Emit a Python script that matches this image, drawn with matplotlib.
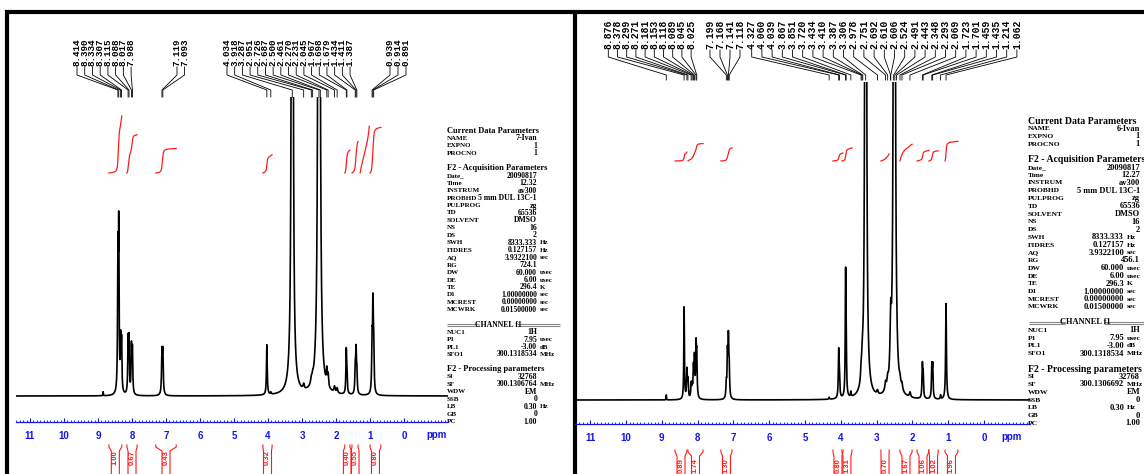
import numpy as np
import matplotlib.pyplot as plt
from matplotlib.ticker import FixedLocator, MultipleLocator

W, H = 1144, 474
BLUE = '#1414e6'
RED = '#ff1a1a'

# ---------------- left spectrum: 7-Ivan ----------------
left_peak_ppm = [8.85, 8.414, 8.390, 8.334, 8.307, 8.115, 8.088, 8.017, 7.988,
                 7.119, 7.093, 4.034, 3.918, 3.287, 3.29, 2.951, 2.726, 2.687,
                 2.500, 2.50, 2.461, 2.270, 2.231, 2.045, 1.967, 1.698, 1.679,
                 1.434, 1.411, 1.387, 0.939, 0.914, 0.891]
left_peak_height = [4, 130, 155, 48, 48, 52, 52, 46, 43,
                    40, 40, 50, 2, 4000, 14, 5, 5, 5,
                    4000, 14, 10, 15, 12, 6, 5, 42, 15,
                    24, 40, 21, 48, 82, 43]
left_peak_width = [0.006, 0.012, 0.012, 0.012, 0.012, 0.012, 0.012, 0.012, 0.012,
                   0.014, 0.014, 0.013, 0.012, 0.010, 0.09, 0.02, 0.02, 0.02,
                   0.012, 0.09, 0.02, 0.015, 0.015, 0.02, 0.02, 0.013, 0.013,
                   0.013, 0.013, 0.013, 0.013, 0.013, 0.013]
left_labels = [[8.414, 8.390, 8.334, 8.307, 8.115, 8.088, 8.017, 7.988],
               [7.119, 7.093],
               [4.034, 3.918, 3.287, 2.951, 2.726, 2.687, 2.500, 2.461, 2.270,
                2.231, 2.045, 1.967, 1.698, 1.679, 1.434, 1.411, 1.387],
               [0.939, 0.914, 0.891]]
left_int_start = [8.68, 8.15, 7.30, 4.15, 1.74, 1.53, 1.29, 1.00]
left_int_end = [8.30, 7.85, 6.70, 3.88, 1.59, 1.35, 1.02, 0.68]
left_int_value = [1.00, 0.67, 0.43, 0.32, 0.40, 0.55, 0.82, 0.80]
left_int_text = ['1.00', '0.67', '0.43', '0.32', '0.40', '0.55', '', '0.80']

# ---------------- right spectrum: 6-Ivan ----------------
right_peak_ppm = [8.876, 8.378, 8.299, 8.271, 8.181, 8.153, 8.118, 8.089, 8.045, 8.025,
                  7.199, 7.168, 7.141, 7.118, 4.327, 4.060, 4.039, 3.867, 3.851,
                  3.720, 3.434, 3.410, 3.387, 3.306, 3.31, 2.978, 2.751, 2.692, 2.610,
                  2.606, 2.506, 2.51, 2.443, 2.348, 2.293, 2.069, 1.723, 1.701,
                  1.459, 1.435, 1.214, 1.062]
right_peak_height = [5, 92, 28, 17, 14, 11, 28, 38, 48, 38,
                     14, 42, 56, 28, 2, 46, 19, 115, 48,
                     5, 10, 12, 8, 4000, 14, 4, 8, 8, 20,
                     35, 4000, 14, 8, 6, 6, 5, 32, 22,
                     31, 31, 4, 96]
right_peak_width = [0.005, 0.01, 0.012, 0.012, 0.012, 0.012, 0.012, 0.012, 0.012, 0.012,
                    0.012, 0.012, 0.012, 0.012, 0.01, 0.012, 0.012, 0.011, 0.011,
                    0.01, 0.015, 0.015, 0.015, 0.009, 0.09, 0.02, 0.02, 0.02, 0.02,
                    0.02, 0.010, 0.09, 0.02, 0.02, 0.02, 0.02, 0.012, 0.012,
                    0.012, 0.012, 0.01, 0.013]
right_labels = [[8.876, 8.378, 8.299, 8.271, 8.181, 8.153, 8.118, 8.089, 8.045, 8.025],
                [7.199, 7.168, 7.141, 7.118],
                [4.327, 4.060, 4.039, 3.867, 3.851, 3.720, 3.434, 3.410, 3.387,
                 3.306, 2.978, 2.751, 2.692, 2.610, 2.606, 2.524, 2.491, 2.443,
                 2.348, 2.293, 2.069, 1.723, 1.701, 1.459, 1.435, 1.214, 1.062]]
right_int_start = [8.63, 8.27, 7.35, 4.22, 3.97, 2.88, 2.35, 1.87, 1.54, 1.09]
right_int_end = [8.30, 7.85, 7.04, 3.94, 3.69, 2.65, 2.01, 1.54, 1.28, 0.73]
right_int_value = [0.89, 1.74, 1.30, 0.80, 1.31, 0.70, 1.67, 1.06, 1.02, 1.96]
right_int_text = ['0.89', '1.74', '1.30', '0.80', '1.31', '0.70', '1.67', '1.06', '1.02', '1.96']

# ---------------- parameter blocks ----------------
left_params = [
    ('Current Data Parameters', None, None), ('NAME', '7-Ivan', ''), ('EXPNO', '1', ''),
    ('PROCNO', '1', ''), ('', None, None),
    ('F2 - Acquisition Parameters', None, None), ('Date_', '20090817', ''),
    ('Time', '12.32', ''), ('INSTRUM', 'av300', ''), ('PROBHD', '5 mm DUL 13C-1', ''),
    ('PULPROG', 'zg', ''), ('TD', '65536', ''), ('SOLVENT', 'DMSO', ''), ('NS', '16', ''),
    ('DS', '2', ''), ('SWH', '8333.333', 'Hz'), ('FIDRES', '0.127157', 'Hz'),
    ('AQ', '3.9322100', 'sec'), ('RG', '724.1', ''), ('DW', '60.000', 'usec'),
    ('DE', '6.00', 'usec'), ('TE', '296.4', 'K'), ('D1', '1.00000000', 'sec'),
    ('MCREST', '0.00000000', 'sec'), ('MCWRK', '0.01500000', 'sec'), ('', None, None),
    ('CHANNEL f1', None, None), ('NUC1', '1H', ''), ('P1', '7.95', 'usec'),
    ('PL1', '-3.00', 'dB'), ('SFO1', '300.1318534', 'MHz'), ('', None, None),
    ('F2 - Processing parameters', None, None), ('SI', '32768', ''),
    ('SF', '300.1306764', 'MHz'), ('WDW', 'EM', ''), ('SSB', '0', ''),
    ('LB', '0.30', 'Hz'), ('GB', '0', ''), ('PC', '1.00', '')]
right_params = [
    ('Current Data Parameters', None, None), ('NAME', '6-Ivan', ''), ('EXPNO', '1', ''),
    ('PROCNO', '1', ''), ('', None, None),
    ('F2 - Acquisition Parameters', None, None), ('Date_', '20090817', ''),
    ('Time', '12.27', ''), ('INSTRUM', 'av300', ''), ('PROBHD', '5 mm DUL 13C-1', ''),
    ('PULPROG', 'zg', ''), ('TD', '65536', ''), ('SOLVENT', 'DMSO', ''), ('NS', '16', ''),
    ('DS', '2', ''), ('SWH', '8333.333', 'Hz'), ('FIDRES', '0.127157', 'Hz'),
    ('AQ', '3.9322100', 'sec'), ('RG', '456.1', ''), ('DW', '60.000', 'usec'),
    ('DE', '6.00', 'usec'), ('TE', '296.3', 'K'), ('D1', '1.00000000', 'sec'),
    ('MCREST', '0.00000000', 'sec'), ('MCWRK', '0.01500000', 'sec'), ('', None, None),
    ('CHANNEL f1', None, None), ('NUC1', '1H', ''), ('P1', '7.95', 'usec'),
    ('PL1', '-3.00', 'dB'), ('SFO1', '300.1318534', 'MHz'), ('', None, None),
    ('F2 - Processing parameters', None, None), ('SI', '32768', ''),
    ('SF', '300.1306692', 'MHz'), ('WDW', 'EM', ''), ('SSB', '0', ''),
    ('LB', '0.30', 'Hz'), ('GB', '0', ''), ('PC', '1.00', '')]

# layout of each panel in pixels
left_cfg = dict(x0=16.4, scale=34.0, ppm_left=11.4, ppm_right=-1.29, axis_y=422, base_y=396,
                top_y=97, lab_y=(67, 75, 90, 97), lab_fs=6.7,
                groups=[(77, 7.73), (177, 7.5), (227, 7.69), (390, 8.0)],
                int_base=173, int_scale=57, br_y=(445, 451), br_txt=458, ppm_x=-0.97, tick_lab_y=435,
                par_x=447, par_val=537, par_val_u=537, par_y=131, par_dy=7.45,
                fs_head=6.0, fs_name=5.0, fs_val=5.6, ch=(447, 479, 498, 517, 560))
right_cfg = dict(x0=575.2, scale=35.8, ppm_left=11.42, ppm_right=-1.29, axis_y=424, base_y=400,
                 top_y=82, lab_y=(50, 57, 75, 80), lab_fs=7.0,
                 groups=[(608.3, 9.2), (710, 10.0), (751.7, 10.2)],
                 int_base=161, int_scale=10, br_y=(450, 456), br_txt=466, ppm_x=-0.78, tick_lab_y=437,
                 par_x=1028, par_val=1140, par_val_u=1124, par_y=121, par_dy=7.75,
                 fs_head=7.0, fs_name=5.4, fs_val=6.0, ch=(1029, 1065, 1085, 1104, 1144))

fig = plt.figure(figsize=(W / 100, H / 100), dpi=100)
bg = fig.add_axes([0, 0, 1, 1])
bg.set_xlim(0, W)
bg.set_ylim(H, 0)
bg.axis('off')

# frames
bg.plot([5, W], [12, 12], color='black', lw=3.0, solid_capstyle='butt')
bg.plot([7, 7], [10, H], color='black', lw=3.0, solid_capstyle='butt')
bg.plot([574.5, 574.5], [10, H], color='black', lw=3.0, solid_capstyle='butt')


def spectrum(ppm, pos, hgt, wid):
    y = np.zeros_like(ppm)
    for p, h, w in zip(pos, hgt, wid):
        y += h / (1 + ((ppm - p) / w) ** 2)
    return y


def draw_params(cfg, params):
    for i, (name, val, unit) in enumerate(params):
        y = cfg['par_y'] + i * cfg['par_dy']
        kw = dict(family='Liberation Serif', weight='bold', va='center', color='black')
        if name == 'CHANNEL f1':
            a, b, c, d, e = cfg['ch']
            for dy in (-1.0, 1.0):
                bg.plot([a, b], [y + dy, y + dy], color='#8a8a8a', lw=0.8, solid_capstyle='butt')
                bg.plot([d, e], [y + dy, y + dy], color='#8a8a8a', lw=0.8, solid_capstyle='butt')
            bg.text(c, y, name, ha='center', fontsize=cfg['fs_name'] + 0.6, **kw)
            continue
        if val is None:
            bg.text(cfg['par_x'], y, name, ha='left', fontsize=cfg['fs_head'], **kw)
            continue
        bg.text(cfg['par_x'], y, name, ha='left', fontsize=cfg['fs_name'], **kw)
        xv = cfg['par_val_u'] if unit else cfg['par_val']
        bg.text(xv, y, val, ha='right', fontsize=cfg['fs_val'], **kw)
        if unit:
            bg.text(xv + 3, y, unit, ha='left', fontsize=cfg['fs_name'], **kw)


def draw_panel(cfg, pk_ppm, pk_h, pk_w, labels, i_start, i_end, i_val, i_txt):
    x0, sc = cfg['x0'], cfg['scale']
    x1 = x0 + (cfg['ppm_left'] - cfg['ppm_right']) * sc
    base = cfg['base_y']
    ax = fig.add_axes([x0 / W, 1 - cfg['axis_y'] / H, (x1 - x0) / W, (cfg['axis_y'] - cfg['top_y']) / H])
    ax.set_xlim(cfg['ppm_left'], cfg['ppm_right'])
    ax.set_ylim(base - cfg['axis_y'], base - cfg['top_y'])
    ax.patch.set_alpha(0)
    for s in ['top', 'left', 'right']:
        ax.spines[s].set_visible(False)
    ax.spines['bottom'].set_color(BLUE)
    ax.spines['bottom'].set_linewidth(0.9)
    ax.set_yticks([])
    ax.xaxis.set_major_locator(FixedLocator(range(0, 12)))
    ax.xaxis.set_minor_locator(MultipleLocator(0.1))
    ax.set_xticklabels([str(v) for v in range(0, 12)])
    pad = (cfg['tick_lab_y'] - cfg['axis_y'] - 4) * 0.72
    ax.tick_params(axis='x', which='major', direction='in', length=3, width=0.8, color=BLUE,
                   labelcolor=BLUE, labelsize=7, pad=pad)
    ax.tick_params(axis='x', which='minor', direction='in', length=1.6, width=0.6, color=BLUE)
    for t in ax.get_xticklabels():
        t.set_fontweight('bold')
        t.set_family('Liberation Sans')
    ax.text(cfg['ppm_x'], base - cfg['tick_lab_y'], 'ppm', color=BLUE, fontsize=7, weight='bold',
            family='Liberation Sans', ha='center', va='center', clip_on=False)

    ppm = np.linspace(cfg['ppm_left'], cfg['ppm_right'], 24000)
    spec = spectrum(ppm, pk_ppm, pk_h, pk_w)
    ax.plot(ppm, spec, color='black', lw=1.2)

    # peak labels with leader lines
    ya, yb, yc, yd = [base - v for v in cfg['lab_y']]
    for (start, step), grp in zip(cfg['groups'], labels):
        for k, p in enumerate(grp):
            lx = start + k * step
            lp = cfg['ppm_left'] - (lx - x0) / sc
            ax.plot([lp, lp, p, p], [ya, yb, yc, yd], color='black', lw=0.6, clip_on=False)
            ax.text(lp, ya + 1, f'{p:.3f}', rotation=90, ha='center', va='bottom',
                    fontsize=cfg['lab_fs'], family='Liberation Mono', weight='bold', clip_on=False)

    # integrals
    ib = base - cfg['int_base']
    bt, bm = [base - v for v in cfg['br_y']]
    half = 4.0 / sc
    for a, b, v, txt in zip(i_start, i_end, i_val, i_txt):
        m = (ppm <= a) & (ppm >= b)
        cs = np.cumsum(spec[m])
        ax.plot(ppm[m], ib + v * cfg['int_scale'] * cs / cs[-1], color=RED, lw=0.9, clip_on=False)
        if not txt:
            continue
        c = (a + b) / 2
        for side in (1, -1):
            edge = c + side * (a - b) / 2
            inner = c + side * half
            ax.plot([edge, edge, inner, inner], [bt, bt - 2, bm, -200], color=RED, lw=0.8, clip_on=False)
        ax.text(c, base - cfg['br_txt'], txt, rotation=90, ha='center', va='center', color=RED,
                fontsize=5.5, weight='bold', family='Liberation Sans', clip_on=False)
    return ax


draw_params(left_cfg, left_params)
draw_params(right_cfg, right_params)
draw_panel(left_cfg, left_peak_ppm, left_peak_height, left_peak_width, left_labels,
           left_int_start, left_int_end, left_int_value, left_int_text)
draw_panel(right_cfg, right_peak_ppm, right_peak_height, right_peak_width, right_labels,
           right_int_start, right_int_end, right_int_value, right_int_text)

fig.savefig('out.png', dpi=100)
